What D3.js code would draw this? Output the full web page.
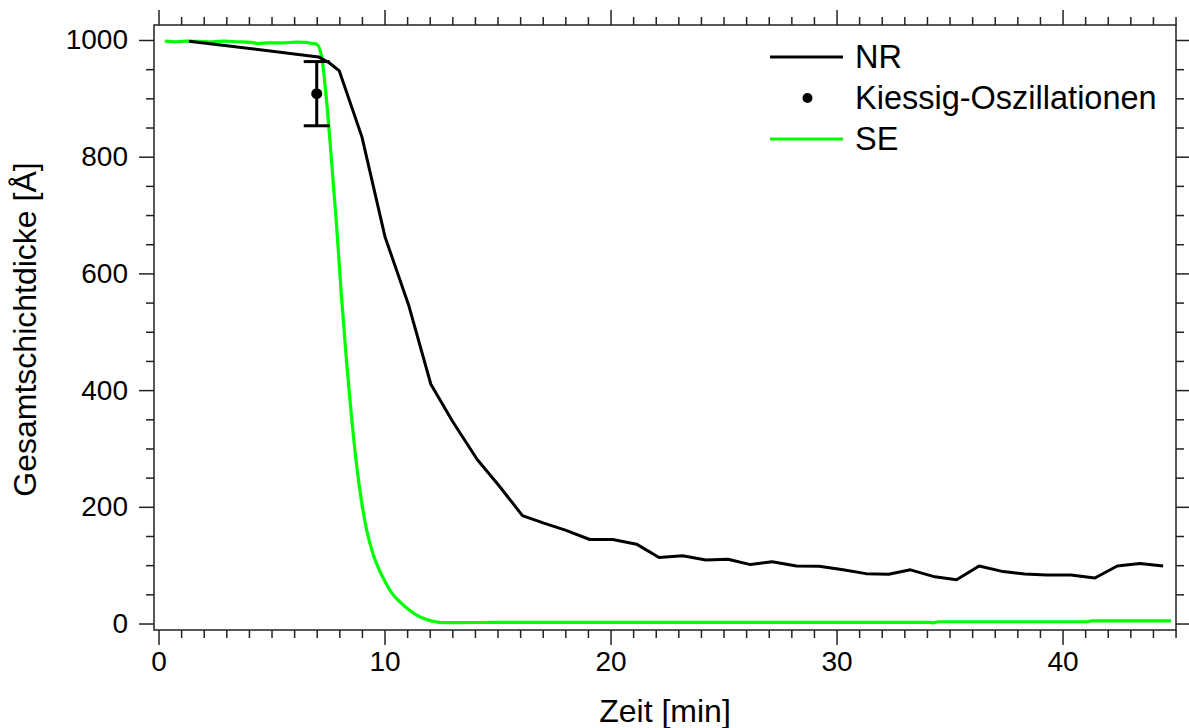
<!DOCTYPE html>
<html>
<head>
<meta charset="utf-8">
<script src="https://cdn.jsdelivr.net/npm/d3@7"></script>
<style>
  html, body { margin: 0; padding: 0; background: #fff; }
  svg { display: block; font-family: "Liberation Sans", Arial, sans-serif; }
</style>
</head>
<body>
<svg id="chart" width="1189" height="728"></svg>
<script>
// ---- data ----
const nrTime = [1.35, 7.08, 7.55, 8.0, 9.0, 10.02, 11.08, 12.05, 13.0, 14.1, 15.05, 16.1, 17.05, 18.0, 19.08, 20.1, 21.15, 22.15, 23.19, 24.22, 25.2, 26.19, 27.15, 28.23, 29.23, 30.29, 31.3, 32.31, 33.27, 34.35, 35.31, 36.31, 37.37, 38.33, 39.29, 40.37, 41.43, 42.42, 43.42, 44.45];
const nrThickness = [998, 971, 961, 947, 834, 663, 544, 410, 347, 281, 237, 185, 172, 160, 144, 144, 136, 113, 116, 109, 110, 101, 106, 98.5, 98, 92, 85.5, 84.5, 92, 80, 75, 98.5, 89, 85, 83, 83, 78, 98.5, 103, 98.5];

const seTime = [0.28, 0.8, 1.3, 1.8, 2.4, 2.9, 3.5, 4.1, 4.4, 4.9, 5.5, 6.1, 6.5, 6.8, 6.99, 7.21, 7.43, 7.65, 7.88, 8.10, 8.32, 8.54, 8.76, 8.98, 9.20, 9.5, 9.79, 10.05, 10.31, 10.6, 10.97, 11.4, 11.86, 12.2, 12.59, 13.3, 15, 20, 25, 30, 34.1, 34.3, 34.5, 38, 41.1, 41.3, 44.8];
const seThickness = [998, 997, 998, 997.5, 997, 998, 997, 996, 994, 995, 995, 996.5, 996, 994, 993, 973, 898, 796, 681, 558, 449, 354, 273, 210, 162, 118, 90, 70, 53, 40, 27, 15, 7, 3.5, 1.5, 1.5, 2, 2, 2, 2, 2, 1, 3, 3, 3, 4.5, 4.5];

const kiessigTime = [7.0];
const kiessigThickness = [908];
const kiessigError = [55];

const xMajorTicks = [0, 10, 20, 30, 40];
const yMajorTicks = [0, 200, 400, 600, 800, 1000];
const xLabel = "Zeit [min]";
const yLabel = "Gesamtschichtdicke [Å]";
const legendLabels = ["NR", "Kiessig-Oszillationen", "SE"];

// ---- layout ----
const svg = d3.select("#chart");
const L = 154, R = 1176, T = 25, B = 630;
const x = d3.scaleLinear().domain([-0.2, 45.02]).range([L, R]);
const y = d3.scaleLinear().domain([-11.1, 1025.7]).range([B, T]);
const axisColor = "#222";
const green = "#00ff00";

const xMinor = d3.range(0, 46, 1).filter(v => v % 10 !== 0);
const yMinor = d3.range(0, 1001, 50).filter(v => v % 200 !== 0);

function styleAxis(g) {
  g.select(".domain").remove();
  g.selectAll(".tick line").attr("stroke", axisColor).attr("stroke-width", 1.5);
  g.selectAll(".tick text").attr("fill", "#000").style("font-size", "28px")
   .style("font-family", "'Liberation Sans', Arial, sans-serif");
}

// bottom
svg.append("g").attr("transform", `translate(0,${B})`)
  .call(d3.axisBottom(x).tickValues(xMajorTicks).tickSize(15).tickPadding(6).tickFormat(d3.format("d")))
  .call(styleAxis);
svg.append("g").attr("transform", `translate(0,${B})`)
  .call(d3.axisBottom(x).tickValues(xMinor).tickSize(8).tickFormat(""))
  .call(styleAxis);
// top
svg.append("g").attr("transform", `translate(0,${T})`)
  .call(d3.axisTop(x).tickValues(xMajorTicks).tickSize(15).tickFormat(""))
  .call(styleAxis);
svg.append("g").attr("transform", `translate(0,${T})`)
  .call(d3.axisTop(x).tickValues(xMinor).tickSize(8).tickFormat(""))
  .call(styleAxis);
// left
svg.append("g").attr("transform", `translate(${L},0)`)
  .call(d3.axisLeft(y).tickValues(yMajorTicks).tickSize(15).tickPadding(11).tickFormat(d3.format("d")))
  .call(styleAxis);
svg.append("g").attr("transform", `translate(${L},0)`)
  .call(d3.axisLeft(y).tickValues(yMinor).tickSize(8).tickFormat(""))
  .call(styleAxis);
// right
svg.append("g").attr("transform", `translate(${R},0)`)
  .call(d3.axisRight(y).tickValues(yMajorTicks).tickSize(15).tickFormat(""))
  .call(styleAxis);
svg.append("g").attr("transform", `translate(${R},0)`)
  .call(d3.axisRight(y).tickValues(yMinor).tickSize(8).tickFormat(""))
  .call(styleAxis);

// frame
svg.append("rect").attr("x", L).attr("y", T).attr("width", R - L).attr("height", B - T)
  .attr("fill", "none").attr("stroke", axisColor).attr("stroke-width", 1.5);

// axis titles
svg.append("text").attr("x", (L + R) / 2).attr("y", 722).attr("text-anchor", "middle")
  .style("font-size", "32px").text(xLabel);
svg.append("text").attr("transform", `translate(36,${(T + B) / 2 + 2}) rotate(-90)`)
  .attr("text-anchor", "middle").style("font-size", "32px").text(yLabel);

// lines
const nrData = nrTime.map((t, i) => [t, nrThickness[i]]);
const seData = seTime.map((t, i) => [t, seThickness[i]]);

const plot = svg.append("g");
plot.append("path").datum(seData)
  .attr("d", d3.line().x(d => x(d[0])).y(d => y(d[1])).curve(d3.curveMonotoneX))
  .attr("fill", "none").attr("stroke", green).attr("stroke-width", 3.2).attr("stroke-linejoin", "round");
plot.append("path").datum(nrData)
  .attr("d", d3.line().x(d => x(d[0])).y(d => y(d[1])))
  .attr("fill", "none").attr("stroke", "#000").attr("stroke-width", 3).attr("stroke-linejoin", "round");

// Kiessig point with error bar
kiessigTime.forEach((t, i) => {
  const cx = x(t), v = kiessigThickness[i], e = kiessigError[i];
  plot.append("line").attr("x1", cx).attr("x2", cx).attr("y1", y(v + e)).attr("y2", y(v - e))
    .attr("stroke", "#000").attr("stroke-width", 3);
  [v + e, v - e].forEach(w => {
    plot.append("line").attr("x1", cx - 13).attr("x2", cx + 13).attr("y1", y(w)).attr("y2", y(w))
      .attr("stroke", "#000").attr("stroke-width", 3);
  });
  plot.append("circle").attr("cx", cx).attr("cy", y(v)).attr("r", 5.5).attr("fill", "#000");
});

// legend
const lg = svg.append("g");
const lx0 = 770, lx1 = 843, tx = 855, rows = [57, 98, 139];
lg.append("line").attr("x1", lx0).attr("x2", lx1).attr("y1", rows[0]).attr("y2", rows[0]).attr("stroke", "#000").attr("stroke-width", 3);
lg.append("circle").attr("cx", (lx0 + lx1) / 2 + 1).attr("cy", rows[1]).attr("r", 5).attr("fill", "#000");
lg.append("line").attr("x1", lx0).attr("x2", lx1).attr("y1", rows[2]).attr("y2", rows[2]).attr("stroke", green).attr("stroke-width", 3);
legendLabels.forEach((lab, i) => {
  lg.append("text").attr("x", tx).attr("y", rows[i] + 11).style("font-size", "32.5px").text(lab);
});
</script>
</body>
</html>
